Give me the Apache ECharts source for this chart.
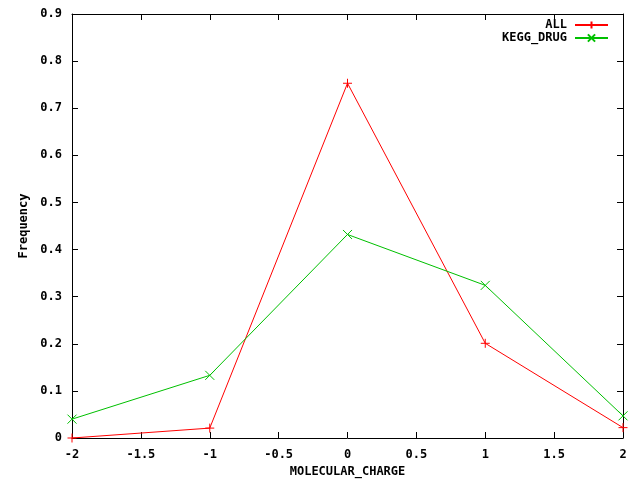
<!DOCTYPE html>
<html><head><meta charset="utf-8">
<script src="https://cdn.jsdelivr.net/npm/echarts@6/dist/echarts.min.js"></script>
<style>html,body{margin:0;padding:0;background:#fff}#c{width:640px;height:480px}</style>
</head><body><div id="c"></div>
<script>
var xValues = [-2, -1, 0, 1, 2];
var allValues = [0.0, 0.021, 0.753, 0.201, 0.022];
var keggValues = [0.040, 0.133, 0.432, 0.324, 0.047];
var seriesNames = ['ALL', 'KEGG_DRUG'];
var xTitle = 'MOLECULAR_CHARGE';
var yTitle = 'Frequency';

var plusPath = 'path://M5,0L5,10M0,5L10,5';
var crossPath = 'path://M0,0L10,10M10,0L0,10';
var font = 'DejaVu Sans Mono';
function pairs(v){return xValues.map(function(x,i){return [x,v[i]];});}
var chart = echarts.init(document.getElementById('c'), null, {renderer:'canvas'});
var tickLabel = {color:'#000', fontFamily:font, fontWeight:'bold', fontSize:12};
var axLine = {onZero:false, lineStyle:{color:'#000', width:1}};
chart.setOption({
  animation:false,
  backgroundColor:'#fff',
  grid:{left:72, right:17, top:14, bottom:42, containLabel:false, outerBoundsMode:'none'},
  legend:{
    right:26, top:14, orient:'vertical', align:'right', itemGap:1,
    itemWidth:33, itemHeight:9,
    textStyle:{color:'#000', fontFamily:font, fontWeight:'bold', fontSize:12, padding:[0,3,0,0]},
    data:[{name:seriesNames[0]},{name:seriesNames[1]}]
  },
  xAxis:[{
    type:'value', min:-2, max:2, interval:0.5,
    name:xTitle, nameLocation:'middle', nameGap:27,
    nameTextStyle:tickLabel,
    axisLine:axLine,
    axisTick:{inside:true, length:6, lineStyle:{color:'#000'}},
    axisLabel:Object.assign({margin:11}, tickLabel),
    splitLine:{show:false}
  },{
    type:'value', min:-2, max:2, interval:0.5, position:'top',
    axisLine:axLine,
    axisTick:{inside:true, length:6, lineStyle:{color:'#000'}},
    axisLabel:{show:false}, splitLine:{show:false}
  }],
  yAxis:[{
    type:'value', min:0, max:0.9, interval:0.1,
    name:yTitle, nameLocation:'middle', nameGap:38, nameRotate:90,
    nameTextStyle:tickLabel,
    axisLine:axLine,
    axisTick:{inside:true, length:6, lineStyle:{color:'#000'}},
    axisLabel:Object.assign({margin:10, formatter:function(v){return v===0?'0':String(+v.toFixed(1));}}, tickLabel),
    splitLine:{show:false}
  },{
    type:'value', min:0, max:0.9, interval:0.1, position:'right',
    axisLine:axLine,
    axisTick:{inside:true, length:6, lineStyle:{color:'#000'}},
    axisLabel:{show:false}, splitLine:{show:false}
  }],
  series:[{
    name:seriesNames[0], type:'line', data:pairs(allValues),
    symbol:plusPath, symbolSize:9, showAllSymbol:true,
    lineStyle:{color:'#ff0000', width:1}, itemStyle:{color:'#ff0000', borderColor:'#ff0000', borderWidth:1},
    color:'#ff0000'
  },{
    name:seriesNames[1], type:'line', data:pairs(keggValues),
    symbol:crossPath, symbolSize:9, showAllSymbol:true,
    lineStyle:{color:'#00c000', width:1}, itemStyle:{color:'#00c000', borderColor:'#00c000', borderWidth:1},
    color:'#00c000'
  }]
});
</script></body></html>
